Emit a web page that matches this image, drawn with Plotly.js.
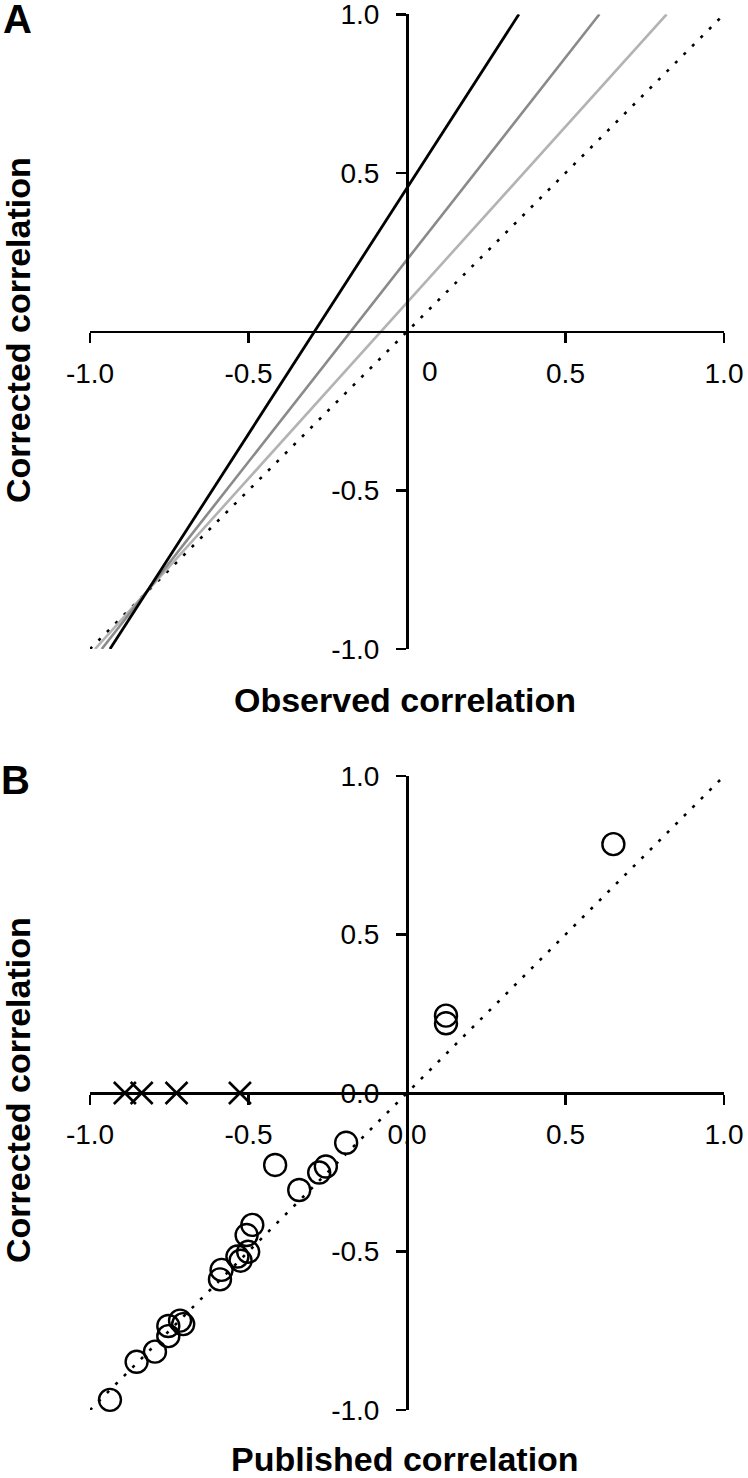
<!DOCTYPE html>
<html>
<head>
<meta charset="utf-8">
<script src="https://cdn.plot.ly/plotly-3.0.1.min.js"></script>
<style>html,body{margin:0;padding:0;background:#fff}</style>
</head>
<body>
<div id="chart" style="width:748px;height:1478px"></div>
<script>
// ---------- Panel A: observed vs corrected correlation ----------
const identityX = [-1, 1];
const identityY = [-1, 1];
const lineBlackX = [-0.937, 0.353];
const lineBlackY = [-1, 1];
const lineDarkX = [-0.963, 0.607];
const lineDarkY = [-1, 1];
const lineLightX = [-0.984, 0.819];
const lineLightY = [-1, 1];

// ---------- Panel B: published vs corrected correlation ----------
const publishedX = [0.651, 0.123, 0.123, -0.192, -0.416, -0.256, -0.277, -0.340,
  -0.488, -0.506, -0.501, -0.535, -0.525, -0.585, -0.590,
  -0.716, -0.706, -0.753, -0.753, -0.795, -0.853, -0.937];
const correctedY = [0.785, 0.244, 0.220, -0.157, -0.227, -0.232, -0.251, -0.306,
  -0.416, -0.448, -0.501, -0.516, -0.529, -0.558, -0.588,
  -0.718, -0.729, -0.735, -0.767, -0.816, -0.848, -0.968];
const excludedX = [-0.890, -0.837, -0.727, -0.527];
const excludedY = [0, 0, 0, 0];

// ---------- ticks and labels ----------
const tickValsA = [-1, -0.5, 0.5, 1];
const tickTextA = ['-1.0', '-0.5', '0.5', '1.0'];
const tickValsB = [-1, -0.5, 0, 0.5, 1];
const tickTextB = ['-1.0', '-0.5', '0.0', '0.5', '1.0'];
const zeroLabelA = '0';
const panelLabels = ['A', 'B'];
const xTitles = ['Observed correlation', 'Published correlation'];
const yTitle = 'Corrected correlation';

const W = 748, H = 1478;
const FONT = 'Liberation Sans, Arial, Helvetica, sans-serif';
const px = v => v / W;
const py = v => 1 - v / H;

const dotted = {color: '#000', width: 2.6, dash: '3px,9px'};

const traces = [
  {x: identityX, y: identityY, xaxis: 'x', yaxis: 'y', mode: 'lines', line: dotted},
  {x: lineLightX, y: lineLightY, xaxis: 'x', yaxis: 'y', mode: 'lines', line: {color: '#b3b3b3', width: 2.6}},
  {x: lineDarkX, y: lineDarkY, xaxis: 'x', yaxis: 'y', mode: 'lines', line: {color: '#8a8a8a', width: 2.6}},
  {x: lineBlackX, y: lineBlackY, xaxis: 'x', yaxis: 'y', mode: 'lines', line: {color: '#000', width: 2.8}},
  {x: identityX, y: identityY, xaxis: 'x2', yaxis: 'y2', mode: 'lines', line: dotted},
  {x: publishedX, y: correctedY, xaxis: 'x2', yaxis: 'y2', mode: 'markers', cliponaxis: false,
   marker: {symbol: 'circle-open', size: 22, color: '#000', line: {width: 2.4, color: '#000'}}},
  {x: excludedX, y: excludedY, xaxis: 'x2', yaxis: 'y2', mode: 'markers', cliponaxis: false,
   marker: {symbol: 'x-thin-open', size: 22, color: '#000', line: {width: 2.6, color: '#000'}}}
];

const xDomain = [px(90), px(724)];
const yAxisPos = px(407);

function axisBase(extra) {
  return Object.assign({
    range: [-1, 1], anchor: 'free', showline: true, linecolor: '#000', linewidth: 2.5,
    ticks: 'outside', ticklen: 10, tickwidth: 2.5, tickcolor: '#000',
    showgrid: false, zeroline: false, fixedrange: true, tickmode: 'array',
    ticklabeloverflow: 'allow',
    tickfont: {family: FONT, size: 28, color: '#000'}
  }, extra);
}

const layout = {
  width: W, height: H,
  margin: {l: 0, r: 0, t: 0, b: 0},
  paper_bgcolor: '#fff', plot_bgcolor: 'rgba(0,0,0,0)',
  showlegend: false,
  xaxis: axisBase({domain: xDomain, position: py(331.7), tickvals: tickValsA, ticktext: tickTextA, ticklabelstandoff: 6}),
  yaxis: axisBase({domain: [py(649), py(14.3)], position: yAxisPos, tickvals: tickValsA, ticktext: tickTextA, ticklabelstandoff: 11}),
  xaxis2: axisBase({domain: xDomain, position: py(1093), tickvals: tickValsB, ticktext: tickTextB, ticklabelstandoff: 6}),
  yaxis2: axisBase({domain: [py(1410), py(776)], position: yAxisPos, tickvals: tickValsB, ticktext: tickTextB, ticklabelstandoff: 11}),
  annotations: [
    {text: zeroLabelA, xref: 'x', yref: 'y', x: 0.073, y: -0.127, showarrow: false,
     xanchor: 'center', yanchor: 'middle', font: {family: FONT, size: 28, color: '#000'}},
    {text: '<b>' + panelLabels[0] + '</b>', xref: 'paper', yref: 'paper', x: px(17), y: py(19.5), showarrow: false,
     xanchor: 'center', yanchor: 'middle', font: {family: FONT, size: 40, color: '#000'}},
    {text: '<b>' + panelLabels[1] + '</b>', xref: 'paper', yref: 'paper', x: px(16), y: py(780), showarrow: false,
     xanchor: 'center', yanchor: 'middle', font: {family: FONT, size: 40, color: '#000'}},
    {text: '<b>' + xTitles[0] + '</b>', xref: 'paper', yref: 'paper', x: px(405), y: py(700), showarrow: false,
     xanchor: 'center', yanchor: 'middle', font: {family: FONT, size: 34, color: '#000'}},
    {text: '<b>' + xTitles[1] + '</b>', xref: 'paper', yref: 'paper', x: px(405), y: py(1459), showarrow: false,
     xanchor: 'center', yanchor: 'middle', font: {family: FONT, size: 34, color: '#000'}},
    {text: '<b>' + yTitle + '</b>', xref: 'paper', yref: 'paper', x: px(18), y: py(330), showarrow: false,
     textangle: -90, xanchor: 'center', yanchor: 'middle', font: {family: FONT, size: 34, color: '#000'}},
    {text: '<b>' + yTitle + '</b>', xref: 'paper', yref: 'paper', x: px(18), y: py(1090), showarrow: false,
     textangle: -90, xanchor: 'center', yanchor: 'middle', font: {family: FONT, size: 34, color: '#000'}}
  ]
};

Plotly.newPlot('chart', traces, layout, {displayModeBar: false, staticPlot: true});
</script>
</body>
</html>
